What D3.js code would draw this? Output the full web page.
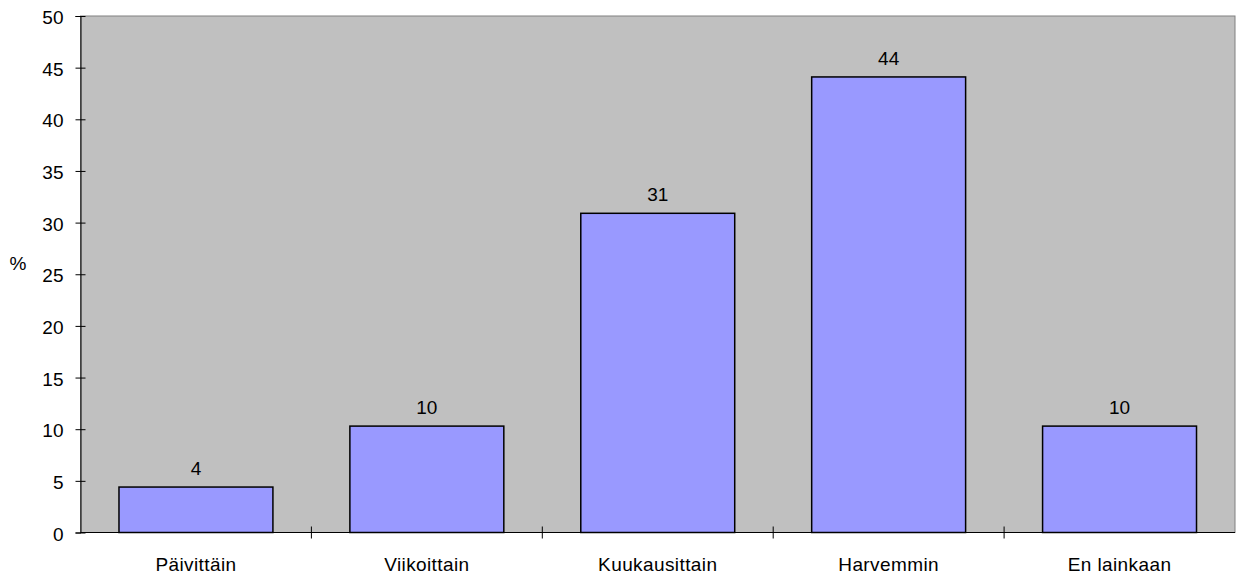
<!DOCTYPE html>
<html>
<head>
<meta charset="utf-8">
<script src="https://cdn.jsdelivr.net/npm/d3@7"></script>
<style>
  body { margin: 0; background: #fff; }
  text { font-family: "Liberation Sans", Arial, sans-serif; }
</style>
</head>
<body>
<div id="chart"></div>
<script>
// Chart data
const categories = ['Päivittäin', 'Viikoittain', 'Kuukausittain', 'Harvemmin', 'En lainkaan'];
const values = [4.4, 10.3, 30.9, 44.1, 10.3];
const valueLabels = ['4', '10', '31', '44', '10'];
const yTicks = [0, 5, 10, 15, 20, 25, 30, 35, 40, 45, 50];

const width = 1236, height = 576;
const margin = { top: 16, right: 1, bottom: 43.5, left: 80.5 };
const fontSize = '19px';

const svg = d3.select('#chart')
  .append('svg')
  .attr('width', width)
  .attr('height', height);

const x = d3.scaleBand()
  .domain(categories)
  .range([margin.left, width - margin.right])
  .paddingInner(1 / 3)
  .paddingOuter(1 / 6);

const y = d3.scaleLinear()
  .domain([0, 50])
  .range([height - margin.bottom, margin.top]);

// plot background
svg.append('rect')
  .attr('x', margin.left)
  .attr('y', margin.top)
  .attr('width', width - margin.right - margin.left)
  .attr('height', y(0) - margin.top)
  .style('fill', '#c0c0c0')
  .style('stroke', '#808080')
  .style('stroke-width', 1);

// bars
svg.selectAll('.bar')
  .data(values)
  .enter()
  .append('rect')
  .attr('class', 'bar')
  .attr('x', (d, i) => x(categories[i]))
  .attr('y', d => y(d))
  .attr('width', x.bandwidth())
  .attr('height', d => y(0) - y(d))
  .style('fill', '#9999ff')
  .style('stroke', '#000')
  .style('stroke-width', 1.5);

// value labels
svg.selectAll('.val')
  .data(values)
  .enter()
  .append('text')
  .attr('x', (d, i) => x(categories[i]) + x.bandwidth() / 2)
  .attr('y', d => y(d) - 12)
  .attr('text-anchor', 'middle')
  .style('font-size', fontSize)
  .text((d, i) => valueLabels[i]);

// y axis
const yAxis = svg.append('g')
  .attr('transform', `translate(${margin.left},0)`)
  .call(d3.axisLeft(y).tickValues(yTicks).tickSize(5).tickPadding(12));
yAxis.select('.domain').attr('stroke', '#000');
yAxis.selectAll('.tick line').attr('x2', 5).attr('x1', -5);
yAxis.selectAll('text')
  .attr('dy', '0.4em')
  .style('font-size', fontSize)
  .style('font-family', '"Liberation Sans", Arial, sans-serif');

// x axis: ticks at category boundaries
const xAxisG = svg.append('g')
  .attr('transform', `translate(0,${y(0)})`);
xAxisG.append('line')
  .attr('x1', margin.left)
  .attr('x2', width - margin.right)
  .style('stroke', '#000');
const boundaries = categories.slice(1).map(c => x(c) - x.step() * x.paddingInner() / 2);
xAxisG.selectAll('.bt')
  .data(boundaries)
  .enter()
  .append('line')
  .attr('x1', d => d).attr('x2', d => d)
  .attr('y1', -6).attr('y2', 6)
  .style('stroke', '#000');
xAxisG.selectAll('.xl')
  .data(categories)
  .enter()
  .append('text')
  .attr('x', d => x(d) + x.bandwidth() / 2)
  .attr('y', 38)
  .attr('text-anchor', 'middle')
  .style('font-size', fontSize)
  .style('letter-spacing', '0.4px')
  .text(d => d);

// y axis title
svg.append('text')
  .attr('x', 18)
  .attr('y', 270)
  .attr('text-anchor', 'middle')
  .style('font-size', fontSize)
  .text('%');
</script>
</body>
</html>
